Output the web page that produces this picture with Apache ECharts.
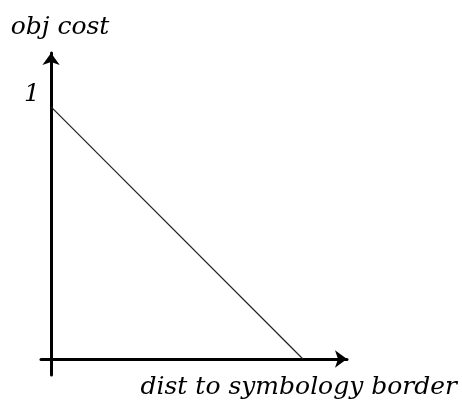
<!DOCTYPE html>
<html>
<head>
<meta charset="utf-8">
<script src="https://cdn.jsdelivr.net/npm/echarts@6/dist/echarts.min.js"></script>
<style>
  html, body { margin: 0; padding: 0; background: #fff; }
  #chart { width: 462px; height: 403px; }
</style>
</head>
<body>
<div id="chart"></div>
<script>
// distance to the symbology border vs object cost
var dist = [0, 1]
var cost = [1, 0]
var yTicks = [1]
var xName = "dist to symbology border"
var yName = "obj cost"

var font = "DejaVu Serif"
var chart = echarts.init(document.getElementById("chart"))
chart.setOption({
  animation: false,
  grid: { left: 41, right: 115, top: 53, bottom: 28, containLabel: false },
  xAxis: {
    type: "value",
    min: -0.04, max: 1.175,
    splitLine: { show: false },
    axisTick: { show: false },
    axisLabel: { show: false },
    axisLine: { onZero: true, lineStyle: { color: "#000", width: 3 },
      symbol: ["none", "arrow"], symbolSize: [13, 12] },
    name: xName,
    nameLocation: "end",
    nameGap: 110,
    nameTextStyle: { fontFamily: font, fontStyle: "italic", fontSize: 25, color: "#000",
      align: "right", verticalAlign: "top", padding: [16, 0, 0, 0] }
  },
  yAxis: {
    type: "value",
    min: -0.0635, max: 1.214,
    splitLine: { show: false },
    axisTick: { show: false },
    axisLabel: { customValues: yTicks, fontFamily: font, fontStyle: "italic", fontSize: 25,
      color: "#000", margin: 1, verticalAlign: "bottom" },
    axisLine: { onZero: true, lineStyle: { color: "#000", width: 3 },
      symbol: ["none", "arrow"], symbolSize: [13, 12] },
    name: yName,
    nameLocation: "end",
    nameGap: 13,
    nameTextStyle: { fontFamily: font, fontStyle: "italic", fontSize: 25, color: "#000",
      align: "center", padding: [0, 0, 0, 18] }
  },
  series: [{
    type: "line",
    data: dist.map(function (d, i) { return [d, cost[i]] }),
    symbol: "none",
    lineStyle: { color: "#222", width: 1.2 }
  }]
})
</script>
</body>
</html>
